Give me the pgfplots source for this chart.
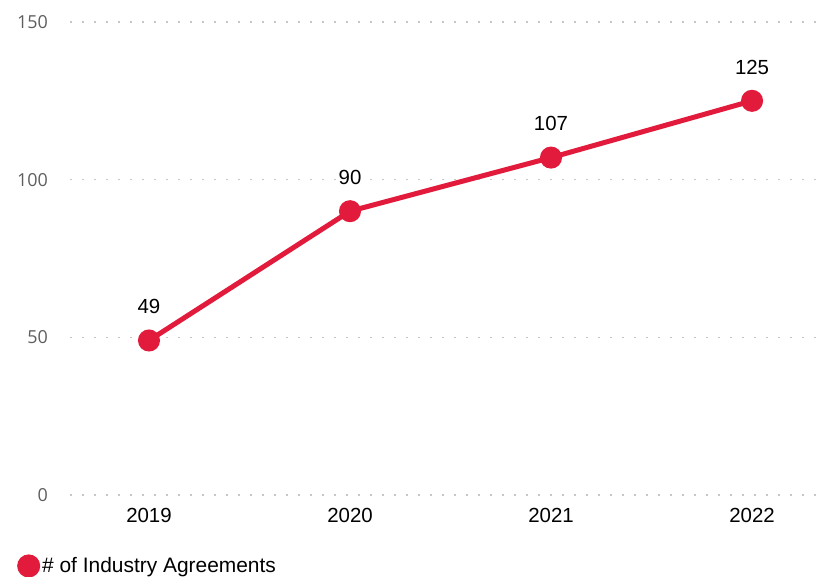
\documentclass[border=0pt]{standalone}
\usepackage{pgfplots}
\pgfplotsset{compat=1.18}
\usepackage{fontspec}
\setmainfont{Liberation Sans}
\newfontfamily\tickfont{Open Sans}
\definecolor{linered}{HTML}{E21B3C}
\definecolor{gridgray}{HTML}{C8C6C4}
\definecolor{tickgray}{HTML}{605E5C}

\pgfplotstableread{
idx year value
0 2019 49
1 2020 90
2 2021 107
3 2022 125
}\agreements

\begin{document}
\begin{tikzpicture}
% fixed page frame around the plot area
\useasboundingbox (-70bp,-82bp) rectangle (757bp,495bp);
\begin{axis}[
  at={(0,0)}, anchor=south west,
  scale only axis,
  width=755bp, height=473bp,
  xmin=-0.393, xmax=3.363,
  ymin=0, ymax=150,
  xtick={0,1,2,3},
  xticklabels={2019,2020,2021,2022},
  ytick={0,50,100,150},
  /pgf/number format/assume math mode=true,
  axis line style={draw=none},
  major tick length=0pt,
  ymajorgrids,
  major grid style={gridgray, line width=1.6bp, dash pattern=on 1.6bp off 10.4bp},
  x tick label style={font=\fontsize{20.5}{24}\selectfont, text=black, anchor=north, inner sep=0pt, yshift=-13bp},
  y tick label style={font=\tickfont\fontsize{18}{22}\selectfont, text=tickgray, anchor=east, inner sep=0pt, xshift=-22bp},
  legend style={at={(-0.0702,-0.150)}, anchor=west, draw=none, fill=none,
    inner sep=0pt, font=\fontsize{21}{24}\selectfont,
    legend cell align=left},
  legend image code/.code={\fill[linered] (0.2bp,0bp) circle (9bp);},
  legend style={/tikz/every even column/.append style={column sep=0pt}},
  nodes near coords,
  point meta=explicit,
  every node near coord/.append style={font=\fontsize{20.5}{24}\selectfont, text=black, anchor=south, inner sep=0pt, yshift=24bp},
]
\addplot[linered, line width=5bp, mark=*, mark size=8.5bp,
  mark options={solid, fill=linered, draw=none}]
  table[x=idx, y=value, meta=value] {\agreements};
\addlegendentry{\hspace{0bp}\# of Industry Agreements}
\end{axis}
\end{tikzpicture}
\end{document}
